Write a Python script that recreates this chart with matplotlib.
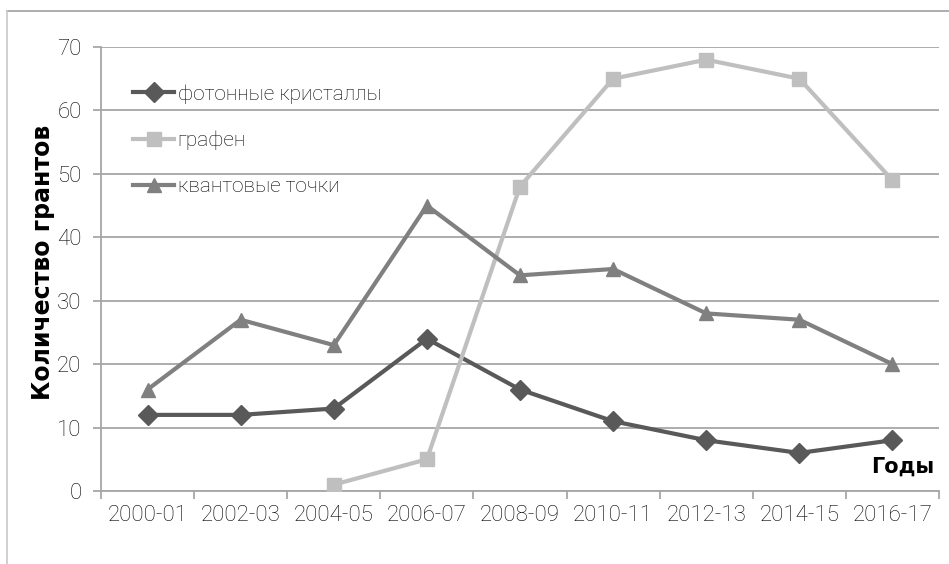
import matplotlib
matplotlib.use('Agg')
import matplotlib.pyplot as plt
import numpy as np
from matplotlib.lines import Line2D

# data
periods = ['2000-01', '2002-03', '2004-05', '2006-07', '2008-09',
           '2010-11', '2012-13', '2014-15', '2016-17']
photonic = [12, 12, 13, 24, 16, 11, 8, 6, 8]
graphene = [np.nan, np.nan, 1, 5, 48, 65, 68, 65, 49]
qdots = [16, 27, 23, 45, 34, 35, 28, 27, 20]
yticks = [0, 10, 20, 30, 40, 50, 60, 70]

plt.rcParams['font.family'] = ['Roboto', 'DejaVu Sans']
plt.rcParams['font.weight'] = 'light'

W, H = 949, 564
fig = plt.figure(figsize=(W / 100, H / 100), dpi=100)
ax = fig.add_axes([101 / W, 1 - 491 / H, (939 - 101) / W, (491 - 47) / H])

x = np.arange(len(periods))
ax.plot(x, photonic, color='#595959', lw=3, marker='D', ms=10.5,
        label='фотонные кристаллы', zorder=3)
ax.plot(x, graphene, color='#bfbfbf', lw=3, marker='s', ms=10.5,
        label='графен', zorder=3)
ax.plot(x, qdots, color='#808080', lw=3, marker='^', ms=10.5,
        label='квантовые точки', zorder=3)

ax.set_xlim(-0.5, len(periods) - 0.5)
ax.set_ylim(0, 70)
ax.set_yticks(yticks)
ax.set_xticks(np.arange(-0.5, len(periods), 1.0))
ax.set_xticklabels([])
ax.set_xticks(x, minor=True)
ax.set_xticklabels(periods, minor=True)
ax.tick_params(axis='x', which='major', length=6, color='#a0a0a0', width=1.2)
ax.tick_params(axis='x', which='minor', length=0, pad=10, labelsize=16,
               labelcolor='#000000')
ax.tick_params(axis='y', length=6, color='#a0a0a0', width=1.2, labelsize=16,
               labelcolor='#000000', pad=8)

ax.grid(axis='y', color='#a6a6a6', lw=1.3, zorder=0)
ax.set_axisbelow(True)
for s in ['top', 'right']:
    ax.spines[s].set_visible(False)
for s in ['left', 'bottom']:
    ax.spines[s].set_color('#a6a6a6')
    ax.spines[s].set_linewidth(1.3)

ax.set_ylabel('Количество грантов', fontsize=17, fontweight='heavy',
              family='DejaVu Sans')
ax.yaxis.set_label_coords(-46 / (939 - 101), 0.515)

ax.text(0.994, 0.055, 'Годы', transform=ax.transAxes, ha='right',
        va='center', fontsize=15, fontweight='heavy', family='DejaVu Sans')

leg = ax.legend(loc='upper left', bbox_to_anchor=(0.028, 0.935),
                frameon=False, fontsize=15, handlelength=2.0,
                handletextpad=0.15, labelspacing=1.3,
                borderaxespad=0)
for t in leg.get_texts():
    t.set_color('#000000')

# outer frame of the picture
fig.add_artist(Line2D([7 / W, 1], [1 - 11 / H, 1 - 11 / H],
                      transform=fig.transFigure, color='#a0a0a0', lw=1.2))
fig.add_artist(Line2D([7 / W, 7 / W], [0, 1 - 11 / H],
                      transform=fig.transFigure, color='#c8c8c8', lw=1.2))

fig.savefig('out.png', dpi=100)
